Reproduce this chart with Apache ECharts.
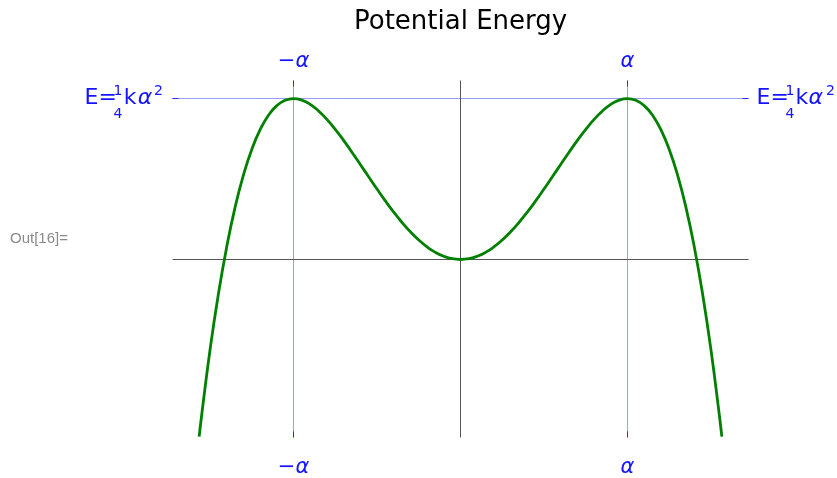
<!DOCTYPE html>
<html>
<head>
<meta charset="utf-8">
<script src="https://cdn.jsdelivr.net/npm/echarts@6/dist/echarts.min.js"></script>
<style>
html,body{margin:0;padding:0;background:#fff;}
#chart{width:837px;height:478px;}
</style>
</head>
<body>
<div id="chart"></div>
<script>
// Position x in units of alpha, potential energy in units of k*alpha^2
const xValues = [-1.565,-1.55,-1.5,-1.45,-1.4,-1.35,-1.3,-1.25,-1.2,-1.15,-1.1,-1.05,-1.0,-0.95,-0.9,-0.85,-0.8,-0.75,-0.7,-0.65,-0.6,-0.55,-0.5,-0.45,-0.4,-0.35,-0.3,-0.25,-0.2,-0.15,-0.1,-0.05,0,
  0.05,0.1,0.15,0.2,0.25,0.3,0.35,0.4,0.45,0.5,0.55,0.6,0.65,0.7,0.75,0.8,0.85,0.9,0.95,1.0,1.05,1.1,1.15,1.2,1.25,1.3,1.35,1.4,1.45,1.5,1.55,1.565];
const energyValues = [-0.2751,-0.2418,-0.1406,-0.0539,0.0196,0.0809,0.1310,0.1709,0.2016,0.2240,0.2390,0.2474,0.2500,0.2476,0.2410,0.2307,0.2176,0.2021,0.1850,0.1666,0.1476,0.1284,0.1094,0.0910,0.0736,0.0575,0.0430,0.0303,0.0196,0.0111,0.0050,0.0012,0,
  0.0012,0.0050,0.0111,0.0196,0.0303,0.0430,0.0575,0.0736,0.0910,0.1094,0.1284,0.1476,0.1666,0.1850,0.2021,0.2176,0.2307,0.2410,0.2476,0.2500,0.2474,0.2390,0.2240,0.2016,0.1709,0.1310,0.0809,0.0196,-0.0539,-0.1406,-0.2418,-0.2751];
const xTicks = [-1, 1];
const xTickLabels = ['−α', 'α'];
const yTicks = [0.25];
const titleText = 'Potential Energy';
const cellLabel = 'Out[16]=';

const blue = '#1414ff';
const tickBlue = '#2a2aff';
const gridBlue = '#9c9cff';
const axisGray = '#555555';
const FONT = 'DejaVu Sans';

const curveData = xValues.map((x, i) => [x, energyValues[i]]);

function xLabelFmt(v) {
  const idx = xTicks.indexOf(v);
  const s = idx >= 0 ? xTickLabels[idx] : '';
  if (s.startsWith('−')) return '{m|−}{a|α}';
  return '{a|α}';
}
const xRich = {
  m: {fontFamily: FONT, fontSize: 21, color: blue},
  a: {fontFamily: FONT, fontSize: 21, fontStyle: 'italic', color: blue}
};

function energyLabel() {
  return '{a1| }{b1|1}{c1| }{d1|2}\n{e|E=}{b2| }{f|k}{g|α}{d2| }\n{a3| }{b3|4}{c3| }{d3| }';
}
const h1 = 6, h2 = 8, h3 = 24;
const small = 14, big = 22;
const eRich = {
  a1: {width: 28, lineHeight: h1, fontSize: small},
  b1: {width: 11, align: 'center', lineHeight: h1, fontSize: small, fontFamily: FONT, color: blue},
  c1: {width: 30, lineHeight: h1, fontSize: small},
  d1: {width: 10, align: 'left', lineHeight: h1, fontSize: small, fontFamily: FONT, color: blue},
  e: {width: 28, align: 'left', lineHeight: h2, fontSize: big, fontFamily: FONT, color: blue},
  b2: {width: 11, lineHeight: h2, fontSize: small},
  f: {width: 13, align: 'left', lineHeight: h2, fontSize: big, fontFamily: FONT, color: blue},
  g: {width: 17, align: 'left', lineHeight: h2, fontSize: big, fontFamily: FONT, fontStyle: 'italic', color: blue},
  d2: {width: 10, lineHeight: h2, fontSize: small},
  a3: {width: 28, lineHeight: h3, fontSize: small},
  b3: {width: 11, align: 'center', lineHeight: h3, fontSize: small, fontFamily: FONT, color: blue},
  c3: {width: 30, lineHeight: h3, fontSize: small},
  d3: {width: 10, lineHeight: h3, fontSize: small}
};

const xRange = {min: -1.7246, max: 1.7246};
const yRange = {min: -0.2764, max: 0.278};

function makeAxis(position, range, ticks, label) {
  return {
    type: 'value', position: position, min: range.min, max: range.max, z: 4,
    axisLine: {show: false, onZero: false},
    axisTick: {show: true, inside: true, length: 6, customValues: ticks, lineStyle: {color: tickBlue, width: 1}},
    splitLine: {show: false},
    minorSplitLine: {show: false},
    splitArea: {show: false},
    axisLabel: Object.assign({show: true, customValues: ticks}, label)
  };
}

// straight guide line between two data points, drawn through the axes' scales
function guideLine(name, z, color, p0, p1) {
  return {
    type: 'line', name: name, data: [p0, p1], z: z, silent: true,
    xAxisIndex: 0, yAxisIndex: 0,
    showSymbol: false, symbol: 'none', smooth: false, clip: true,
    lineStyle: {color: color, width: 1, type: 'solid', opacity: 1},
    emphasis: {disabled: true}
  };
}

const guides = [
  guideLine('grid-x0', 1, gridBlue, [xTicks[0], yRange.min], [xTicks[0], yRange.max]),
  guideLine('grid-x1', 1, gridBlue, [xTicks[1], yRange.min], [xTicks[1], yRange.max]),
  guideLine('grid-y', 1, gridBlue, [xRange.min, yTicks[0]], [xRange.max, yTicks[0]]),
  guideLine('axis-x', 2, axisGray, [0, yRange.min], [0, yRange.max]),
  guideLine('axis-y', 2, axisGray, [xRange.min, 0], [xRange.max, 0])
];

const chart = echarts.init(document.getElementById('chart'), null, {renderer: 'canvas'});
chart.setOption({
  animation: false,
  backgroundColor: '#ffffff',
  tooltip: {show: false},
  title: {
    text: titleText,
    left: 349,
    top: 4,
    textStyle: {fontFamily: FONT, fontSize: 26, fontWeight: 'normal', color: '#000'}
  },
  graphic: [{
    type: 'text',
    left: 10,
    top: 231,
    style: {text: cellLabel, fontFamily: 'Liberation Sans', fontSize: 15, fill: '#8a8a8a'}
  }],
  grid: {left: 172.5, right: 88.5, top: 80.5, bottom: 40.5, containLabel: false, outerBoundsMode: 'none'},
  xAxis: [
    makeAxis('bottom', xRange, xTicks, {formatter: xLabelFmt, rich: xRich, margin: 20}),
    makeAxis('top', xRange, xTicks, {formatter: xLabelFmt, rich: xRich, margin: 8})
  ],
  yAxis: [
    makeAxis('left', yRange, yTicks, {formatter: energyLabel, rich: eRich, margin: 9, align: 'right', padding: [18, 0, 0, 0]}),
    makeAxis('right', yRange, yTicks, {formatter: energyLabel, rich: eRich, margin: 8, align: 'left', padding: [18, 0, 0, 0]})
  ],
  series: guides.concat([
    {
      type: 'line', name: 'V(x)', data: curveData, z: 3,
      xAxisIndex: 0, yAxisIndex: 0,
      showSymbol: false, smooth: true, clip: true,
      lineStyle: {color: '#008000', width: 2.8}
    }
  ])
});
</script>
</body>
</html>
